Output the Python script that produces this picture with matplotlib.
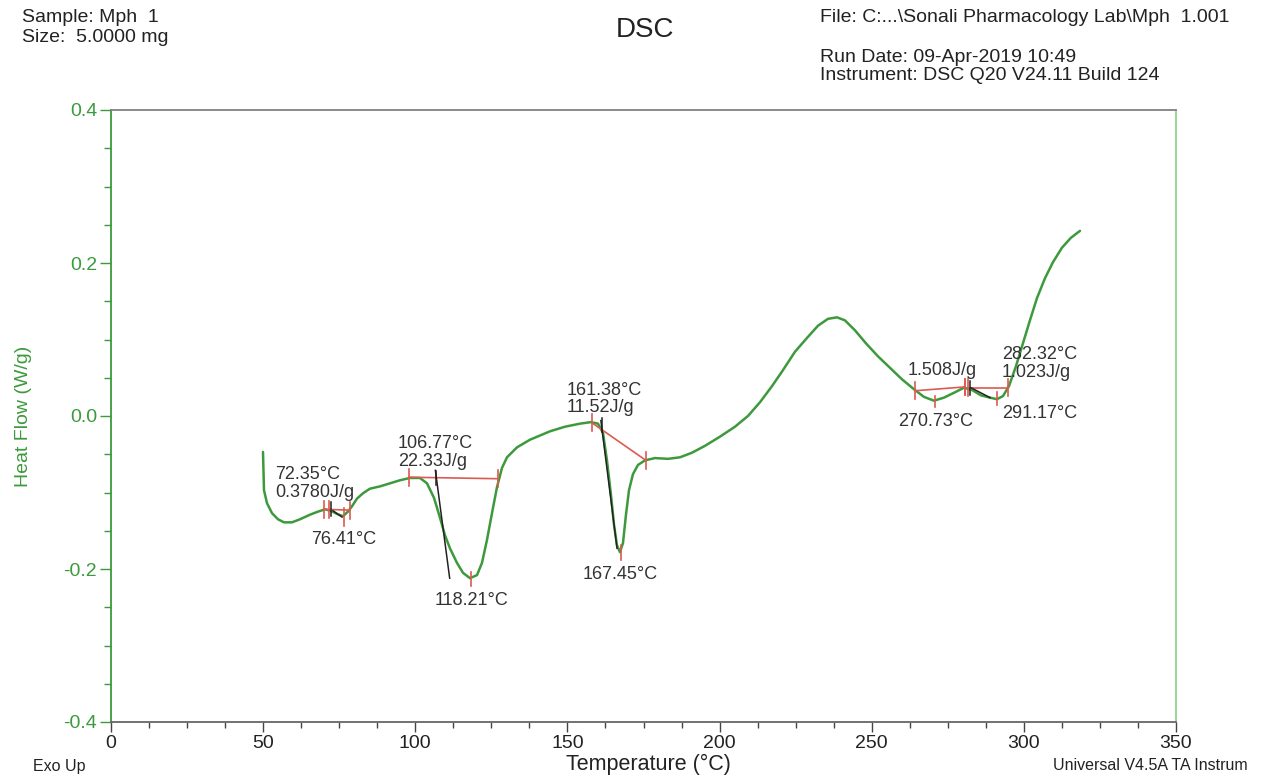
import matplotlib
matplotlib.use("Agg")
import matplotlib.pyplot as plt
from matplotlib.ticker import MultipleLocator, FormatStrFormatter

plt.rcParams['font.family'] = ['Liberation Sans', 'DejaVu Sans']

# ---- DSC heat-flow trace (Temperature in degC, Heat Flow in W/g) ----
temperature = [
    49.95, 50.28, 51.27, 52.91, 54.88, 56.85, 59.48, 62.11, 65.40, 68.03,
    70.33, 72.30, 74.27, 76.24, 77.88, 79.20, 80.84, 82.81, 85.11, 88.40,
    91.69, 94.97, 98.26, 101.54, 103.85, 106.15, 108.12, 109.76, 111.40, 113.70,
    115.68, 117.97, 120.28, 121.92, 123.56, 125.21, 126.85, 128.49, 130.13, 133.42,
    137.69, 144.27, 149.20, 154.13, 157.74, 160.04, 161.68, 162.99, 164.31, 165.30,
    166.28, 167.27, 168.26, 169.24, 170.23, 171.54, 173.18, 175.48, 178.77, 183.04,
    186.99, 190.93, 195.20, 200.13, 205.06, 209.33, 213.28, 217.22, 220.84, 224.78,
    228.72, 232.34, 235.62, 238.58, 241.21, 244.50, 248.11, 252.06, 256.00, 259.94,
    263.88, 267.17, 270.46, 273.74, 277.36, 280.32, 282.95, 285.90, 288.86, 291.16,
    293.13, 295.10, 297.40, 299.70, 302.00, 304.30, 306.93, 309.56, 312.52, 315.48,
    318.44,
]
heat_flow = [
    -0.047, -0.097, -0.114, -0.127, -0.135, -0.139, -0.139, -0.135, -0.129, -0.125,
    -0.122, -0.124, -0.128, -0.131, -0.125, -0.118, -0.108, -0.101, -0.095, -0.092,
    -0.088, -0.084, -0.081, -0.081, -0.088, -0.107, -0.133, -0.156, -0.173, -0.192,
    -0.205, -0.212, -0.208, -0.192, -0.162, -0.127, -0.093, -0.068, -0.054, -0.041,
    -0.031, -0.020, -0.014, -0.010, -0.008, -0.010, -0.022, -0.058, -0.103, -0.142,
    -0.169, -0.178, -0.166, -0.129, -0.097, -0.076, -0.064, -0.058, -0.055, -0.056,
    -0.054, -0.048, -0.039, -0.027, -0.014, 0.000, 0.018, 0.039, 0.060, 0.084,
    0.102, 0.118, 0.127, 0.129, 0.125, 0.112, 0.095, 0.078, 0.063, 0.048,
    0.035, 0.025, 0.020, 0.024, 0.031, 0.037, 0.034, 0.027, 0.024, 0.022,
    0.026, 0.039, 0.065, 0.095, 0.125, 0.154, 0.180, 0.201, 0.220, 0.233,
    0.242,
]

# ---- Peak analysis results ----
onset_temps = [72.35, 106.77, 161.38, 282.32]
onset_enthalpy = ["0.3780", "22.33", "11.52", "1.023"]
peak_temps = [76.41, 118.21, 167.45, 270.73, 291.17]
peak_marker_y = [(-0.120, -0.144), (-0.204, -0.222), (-0.169, -0.188),
                 (0.026, 0.012), (0.031, 0.014)]
# integration baselines: (T start, HF start, T end, HF end)
baselines = [
    (70.0, -0.122, 78.5, -0.123),
    (97.9, -0.080, 127.2, -0.082),
    (158.1, -0.009, 175.8, -0.058),
    (264.2, 0.033, 280.6, 0.038),
    (281.6, 0.037, 294.8, 0.037),
]
extra_limit_temps = [(71.5, -0.122), (280.6, 0.038)]
# onset tangent lines: (T1, HF1, T2, HF2)
tangents = [
    (73.0, -0.124, 75.9, -0.132),
    (106.6, -0.071, 111.3, -0.212),
    (161.0, -0.006, 166.3, -0.173),
    (282.6, 0.037, 288.9, 0.024),
]
enthalpy_only = "1.508"

GREEN = '#3c9a3c'
RED = '#dc5a50'
DARK = '#222222'

W, H = 1262, 775
fig = plt.figure(figsize=(W / 100, H / 100), dpi=100)
ax = fig.add_axes([111 / W, 1 - 722 / H, (1176 - 111) / W, (722 - 110) / H])

ax.plot(temperature, heat_flow, color=GREEN, lw=1.8, zorder=3,
        solid_joinstyle='round', solid_capstyle='round')

ax.set_xlim(0, 350)
ax.set_ylim(-0.4, 0.4)
ax.xaxis.set_major_locator(MultipleLocator(50))
ax.xaxis.set_minor_locator(MultipleLocator(12.5))
ax.yaxis.set_major_locator(MultipleLocator(0.2))
ax.yaxis.set_minor_locator(MultipleLocator(0.05))
ax.yaxis.set_major_formatter(FormatStrFormatter('%.1f'))

ax.tick_params(axis='x', which='major', length=7, width=1, color='#444444',
               labelsize=14, labelcolor='#222222', pad=2)
ax.tick_params(axis='x', which='minor', length=4, width=1, color='#444444')
ax.tick_params(axis='y', which='major', length=8, width=1, color=GREEN,
               labelsize=14, labelcolor=GREEN, pad=2)
ax.tick_params(axis='y', which='minor', length=5, width=1, color=GREEN)

ax.spines['left'].set_color(GREEN)
ax.spines['right'].set_color('#8fd48f')
ax.spines['top'].set_color('#808080')
ax.spines['bottom'].set_color('#666666')
for s in ax.spines.values():
    s.set_linewidth(1.3)

ax.set_ylabel('Heat Flow (W/g)', color=GREEN, fontsize=14)
ax.yaxis.set_label_coords(-0.074, 0.5)

# baselines with limit ticks
tick_h = 0.011
for t1, y1, t2, y2 in baselines:
    ax.plot([t1, t2], [y1, y2], color=RED, lw=1.2, zorder=4)
    for t, y in ((t1, y1), (t2, y2)):
        ax.plot([t, t], [y - tick_h, y + tick_h], color=RED, lw=1.2, zorder=4)
for t, y in extra_limit_temps:
    ax.plot([t, t], [y - tick_h, y + tick_h], color=RED, lw=1.2, zorder=4)

# onset tangents and onset ticks
onset_base_y = [-0.122, -0.081, -0.012, 0.037]
for (t1, y1, t2, y2) in tangents:
    ax.plot([t1, t2], [y1, y2], color=DARK, lw=1.1, zorder=5)
for t, y in zip(onset_temps, onset_base_y):
    ax.plot([t, t], [y - 0.009, y + 0.009], color=DARK, lw=1.1, zorder=5)

# peak markers
for t, (ya, yb) in zip(peak_temps, peak_marker_y):
    ax.plot([t, t], [ya, yb], color=RED, lw=1.2, zorder=4)

LBL = dict(fontsize=13, color='#333333', zorder=6)
ax.text(53.9, -0.066, f"{onset_temps[0]:.2f}°C\n{onset_enthalpy[0]}J/g",
        ha='left', va='top', linespacing=1.05, **LBL)
ax.text(76.6, -0.162, f"{peak_temps[0]:.2f}°C", ha='center', va='center', **LBL)
ax.text(94.3, -0.025, f"{onset_temps[1]:.2f}°C\n{onset_enthalpy[1]}J/g",
        ha='left', va='top', linespacing=1.05, **LBL)
ax.text(118.6, -0.241, f"{peak_temps[1]:.2f}°C", ha='center', va='center', **LBL)
ax.text(149.9, 0.045, f"{onset_temps[2]:.2f}°C\n{onset_enthalpy[2]}J/g",
        ha='left', va='top', linespacing=1.05, **LBL)
ax.text(167.3, -0.207, f"{peak_temps[2]:.2f}°C", ha='center', va='center', **LBL)
ax.text(273.1, 0.060, f"{enthalpy_only}J/g", ha='center', va='center', **LBL)
ax.text(271.1, -0.007, f"{peak_temps[3]:.2f}°C", ha='center', va='center', **LBL)
ax.text(292.8, 0.091, f"{onset_temps[3]:.2f}°C\n{onset_enthalpy[3]}J/g",
        ha='left', va='top', linespacing=1.05, **LBL)
ax.text(292.8, 0.003, f"{peak_temps[4]:.2f}°C", ha='left', va='center', **LBL)

# header and footer
def ftext(x, y, s, **kw):
    fig.text(x / W, 1 - y / H, s, **kw)

HDR = dict(fontsize=14, color='#222222', va='center', ha='left')
ftext(22, 18, "Sample: Mph  1", **HDR)
ftext(22, 38, "Size:  5.0000 mg", **HDR)
ftext(820, 18, "File: C:...\\Sonali Pharmacology Lab\\Mph  1.001", **HDR)
ftext(820, 57, "Run Date: 09-Apr-2019 10:49", **HDR)
ftext(820, 75, "Instrument: DSC Q20 V24.11 Build 124", **HDR)
ftext(645, 30, "DSC", fontsize=20, color='#222222', ha='center', va='center')
ftext(33, 766, "Exo Up", fontsize=11.5, color='#222222', ha='left', va='center')
ftext(648, 764, "Temperature (°C)", fontsize=15.5, color='#222222',
      ha='center', va='center')
ftext(1053, 766, "Universal V4.5A TA Instrum", fontsize=11.5,
      color='#222222', ha='left', va='center')

fig.savefig("out.png", dpi=100)
